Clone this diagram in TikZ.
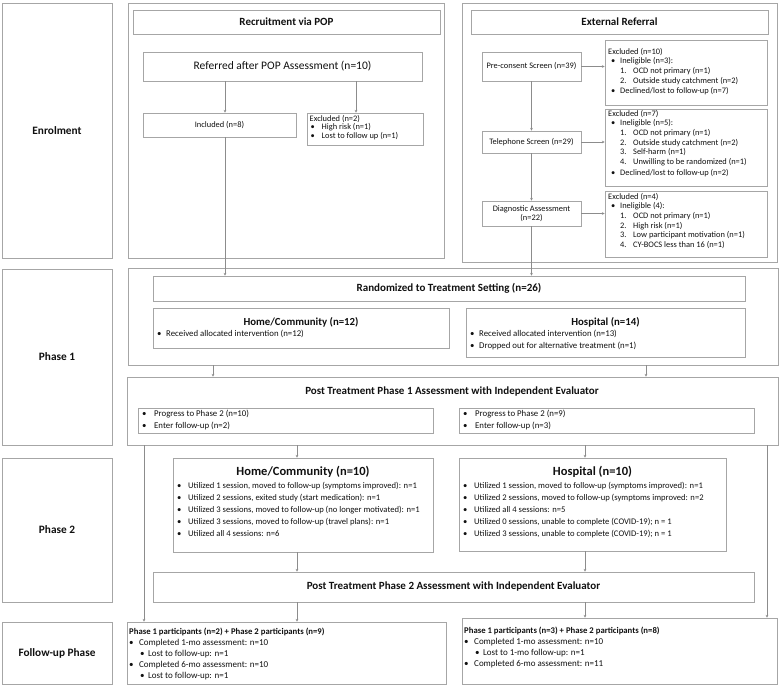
\documentclass[tikz,border=0pt]{standalone}
\usepackage{fontspec}
\setmainfont{Carlito}
\usetikzlibrary{arrows.meta,fit}
\definecolor{boxc}{HTML}{A6A6A6}
\definecolor{linec}{HTML}{8C8C8C}
\definecolor{txtc}{HTML}{101010}
\newcommand\sm{\fontsize{8.4}{9.6}\selectfont}
\newcommand\smp{\fontsize{8.6}{12}\selectfont}
\newcommand\smq{\fontsize{8.8}{11.5}\selectfont}
\newcommand\bu[1]{\makebox[#1][l]{•}}
\newcommand\nm[1]{\hspace*{12pt}\makebox[13pt][l]{#1}}
\begin{document}
\begin{tikzpicture}[x=1pt,y=-1pt,
  box/.style={draw=boxc,line width=0.9pt,inner sep=0pt},
  txt/.style={inner sep=0pt,text=txtc,align=left},
  lbl/.style={inner sep=0pt,text=txtc,font=\bfseries\fontsize{11.3}{13}\selectfont},
  ttl/.style={inner sep=0pt,text=txtc,font=\bfseries\fontsize{11}{13}\selectfont},
  mid/.style={inner sep=0pt,text=txtc,font=\bfseries\fontsize{10.8}{13}\selectfont},
  big/.style={inner sep=0pt,text=txtc,font=\bfseries\fontsize{12.5}{14}\selectfont},
  arr/.style={draw=linec,line width=0.6pt,-{Stealth[length=2.6pt,width=2.6pt]}}]
\useasboundingbox (0,0) rectangle (779,687);

% ---- left phase labels
\node[box,fit={(2,3) (112,258)}] (lab1) {};
\node[box,fit={(2,269) (112,445)}] (lab2) {};
\node[box,fit={(2,458) (112,602)}] (lab3) {};
\node[box,fit={(2,622) (112,684)}] (lab4) {};
\node[lbl] (tl1) at (lab1.center) {Enrolment};
\node[lbl] (tl2) at (lab2.center) {Phase 1};
\node[lbl] (tl3) at (lab3.center) {Phase 2};
\node[lbl] (tl4) at (lab4.center) {Follow-up Phase};

% ---- Recruitment via POP
\node[box,fit={(128,3) (444,258)}] (popouter) {};
\node[box,fit={(133,10) (440,34)}] (poptitle) {};
\node[ttl] (tpop) at (poptitle.center) {Recruitment via POP};
\node[box,fit={(143,52) (422,81)}] (referred) {};
\node[txt,font=\fontsize{11.5}{13}\selectfont] (tref) at (referred.center) {Referred after POP Assessment (n=10)};
\node[box,fit={(143,113) (296,137)}] (included) {};
\node[txt,font=\sm] (tinc) at (included.center) {Included (n=8)};
\node[box,fit={(307,113) (423,145)}] (excl2) {};
\node[txt,font=\fontsize{8.4}{8.6}\selectfont,anchor=north west] (tex2) at (309.5,115) {Excluded (n=2)\\
\hspace*{1pt}\bu{11pt}High risk (n=1)\\
\hspace*{1pt}\bu{11pt}Lost to follow up (n=1)};

% ---- External referral
\node[box,fit={(462,3) (777,262)}] (extouter) {};
\node[box,fit={(471,10) (768,34)}] (exttitle) {};
\node[ttl] (text) at (exttitle.center) {External Referral};
\node[box,fit={(482,52) (581,81)}] (precons) {};
\node[txt,font=\sm] (tpre) at (precons.center) {Pre-consent Screen (n=39)};
\node[box,fit={(482,131) (581,153)}] (phone) {};
\node[txt,font=\sm] (tpho) at (phone.center) {Telephone Screen (n=29)};
\node[box,fit={(482,201) (581,226)}] (diag) {};
\node[txt,font=\sm,align=center] (tdia) at (diag.center) {Diagnostic Assessment\\(n=22)};

\node[box,fit={(605,40) (767,105)}] (excl10) {};
\node[txt,font=\sm,anchor=north west] (tex10) at (608,48) {Excluded (n=10)\\
\hspace*{3pt}\bu{9pt}Ineligible (n=3):\\
\nm{1.}OCD not primary (n=1)\\
\nm{2.}Outside study catchment (n=2)\\[1.2pt]
\hspace*{3pt}\bu{9pt}Declined/lost to follow-up (n=7)};

\node[box,fit={(605,109) (767,186)}] (excl7) {};
\node[txt,font=\sm,anchor=north west] (tex7) at (608,110) {Excluded (n=7)\\
\hspace*{3pt}\bu{9pt}Ineligible (n=5):\\
\nm{1.}OCD not primary (n=1)\\
\nm{2.}Outside study catchment (n=2)\\
\nm{3.}Self-harm (n=1)\\
\nm{4.}Unwilling to be randomized (n=1)\\[1.2pt]
\hspace*{3pt}\bu{9pt}Declined/lost to follow-up (n=2)};

\node[box,fit={(605,191) (767,257)}] (excl4) {};
\node[txt,font=\sm,anchor=north west] (tex4) at (608,193) {Excluded (n=4)\\
\hspace*{3pt}\bu{9pt}Ineligible (4):\\
\nm{1.}OCD not primary (n=1)\\
\nm{2.}High risk (n=1)\\
\nm{3.}Low participant motivation (n=1)\\
\nm{4.}CY-BOCS less than 16 (n=1)};

% ---- Phase 1
\node[box,fit={(128,268) (778,365)}] (p1outer) {};
\node[box,fit={(153,276) (745,301)}] (rand) {};
\node[ttl] (trand) at (rand.center) {Randomized to Treatment Setting (n=26)};
\node[box,fit={(153,308) (449,348)}] (home12) {};
\node[mid] (th12) at (301,322) {Home/Community (n=12)};
\node[txt,font=\smq,anchor=north west] (tb12) at (157,330) {\bu{9pt}Received allocated intervention (n=12)};
\node[box,fit={(466,308) (745,357)}] (hosp14) {};
\node[mid] (tp14) at (605.5,322) {Hospital (n=14)};
\node[txt,font=\smq,anchor=north west] (tb14) at (470,330) {\bu{9pt}Received allocated intervention (n=13)\\
\bu{9pt}Dropped out for alternative treatment (n=1)};

\node[box,fit={(127,377) (778,445)}] (postp1) {};
\node[ttl] (tpost1) at (452,392) {Post Treatment Phase 1 Assessment with Independent Evaluator};
\node[box,fit={(138,408) (433,433)}] (prog1) {};
\node[txt,font=\smq,anchor=north west] (tpg1) at (142,410) {\bu{12pt}Progress to Phase 2 (n=10)\\
\bu{12pt}Enter follow-up (n=2)};
\node[box,fit={(459,408) (754,433)}] (prog2) {};
\node[txt,font=\smq,anchor=north west] (tpg2) at (463,410) {\bu{12pt}Progress to Phase 2 (n=9)\\
\bu{12pt}Enter follow-up (n=3)};

% ---- Phase 2
\node[box,fit={(173,458) (433,552)}] (home10) {};
\node[big] (th10) at (303,472) {Home/Community (n=10)};
\node[txt,font=\smp,anchor=north west] (tb10) at (177,482) {\bu{11pt}Utilized 1 session, moved to follow-up (symptoms improved): n=1\\
\bu{11pt}Utilized 2 sessions, exited study (start medication): n=1\\
\bu{11pt}Utilized 3 sessions, moved to follow-up (no longer motivated): n=1\\
\bu{11pt}Utilized 3 sessions, moved to follow-up (travel plans): n=1\\
\bu{11pt}Utilized all 4 sessions: n=6};
\node[box,fit={(459,458) (726,551)}] (hosp10) {};
\node[big] (tp10) at (592.5,472) {Hospital (n=10)};
\node[txt,font=\smp,anchor=north west] (tq10) at (463,482) {\bu{11pt}Utilized 1 session, moved to follow-up (symptoms improved): n=1\\
\bu{11pt}Utilized 2 sessions, moved to follow-up (symptoms improved: n=2\\
\bu{11pt}Utilized all 4 sessions: n=5\\
\bu{11pt}Utilized 0 sessions, unable to complete (COVID-19); n = 1\\
\bu{11pt}Utilized 3 sessions, unable to complete (COVID-19); n = 1};
\node[box,fit={(153,572) (754,602)}] (postp2) {};
\node[ttl] (tpost2) at (postp2.center) {Post Treatment Phase 2 Assessment with Independent Evaluator};

% ---- Follow-up
\node[box,fit={(127,622) (446,684)}] (fu1) {};
\node[txt,font=\fontsize{9}{11}\selectfont,anchor=north west] (tfu1) at (129,627.5) {{\bfseries\fontsize{8.7}{11}\selectfont Phase 1 participants (n=2) + Phase 2 participants (n=9)}\\
\bu{10pt}Completed 1-mo assessment: n=10\\
\hspace*{11pt}\bu{8pt}Lost to follow-up: n=1\\
\bu{10pt}Completed 6-mo assessment: n=10\\
\hspace*{11pt}\bu{8pt}Lost to follow-up: n=1};
\node[box,fit={(462,618) (777,684)}] (fu2) {};
\node[txt,font=\fontsize{9}{11}\selectfont,anchor=north west] (tfu2) at (464,626.5) {{\bfseries\fontsize{8.7}{11}\selectfont Phase 1 participants (n=3) + Phase 2 participants (n=8)}\\
\bu{10pt}Completed 1-mo assessment: n=10\\
\hspace*{11pt}\bu{8pt}Lost to 1-mo follow-up: n=1\\
\bu{10pt}Completed 6-mo assessment: n=11};

% ---- connectors
\coordinate (xa) at (225,0);
\coordinate (xb) at (356,0);
\coordinate (xc) at (213,0);
\coordinate (xd) at (646,0);
\coordinate (xe) at (297,0);
\coordinate (xf) at (585,0);
\coordinate (xg) at (144,0);
\coordinate (xh) at (767,0);
\draw[arr] (referred.south -| xa) -- (included.north -| xa);
\draw[arr] (referred.south -| xb) -- (excl2.north -| xb);
\draw[arr] (included.south -| xa) -- (rand.north -| xa);
\draw[arr] (precons) -- (phone);
\draw[arr] (phone) -- (diag);
\draw[arr] (diag.south) -- (rand.north -| diag.south);
\draw[arr] (precons.east) -- (precons.east -| excl10.west);
\draw[arr] (phone.east) -- (phone.east -| excl7.west);
\draw[arr] (diag.east) -- (diag.east -| excl4.west);
\draw[arr] (p1outer.south -| xc) -- (postp1.north -| xc);
\draw[arr] (p1outer.south -| xd) -- (postp1.north -| xd);
\draw[arr] (postp1.south -| xe) -- (home10.north -| xe);
\draw[arr] (postp1.south -| xf) -- (hosp10.north -| xf);
\draw[arr] (home10.south -| xe) -- (postp2.north -| xe);
\draw[arr] (hosp10.south -| xf) -- (postp2.north -| xf);
\draw[arr] (postp2.south -| xe) -- (fu1.north -| xe);
\draw[arr] (postp2.south -| xf) -- (fu2.north -| xf);
\draw[arr] (postp1.south -| xg) -- (fu1.north -| xg);
\draw[arr] (postp1.south -| xh) -- (fu2.north -| xh);
\end{tikzpicture}
\end{document}
